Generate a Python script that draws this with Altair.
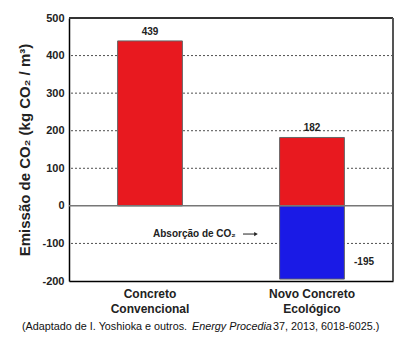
import altair as alt
import pandas as pd

categories = ["Concreto|Convencional", "Novo Concreto|Ecológico"]
emissao = [439, 182]
absorcao = [0, -195]
y_ticks = [-200, -100, 0, 100, 200, 300, 400, 500]
grid_vals = [-100, 100, 200, 300, 400]

FONT = "Liberation Sans"

rows = []
for c, e, a in zip(categories, emissao, absorcao):
    rows.append({"cat": c, "y0": 0, "y1": e, "tipo": "Emissão"})
    if a != 0:
        rows.append({"cat": c, "y0": 0, "y1": a, "tipo": "Absorção"})
bars_df = pd.DataFrame(rows)

lab_df = pd.DataFrame({"cat": categories, "v": emissao, "t": [str(v) for v in emissao]})
neg_df = pd.DataFrame({"cat": [categories[1]], "v": [absorcao[1]], "t": [str(absorcao[1])]})
grid_df = pd.DataFrame({"g": grid_vals})
zero_df = pd.DataFrame({"z": [0]})
top_df = pd.DataFrame({"z": [500]})

xscale = alt.Scale(domain=categories, paddingInner=0.6, paddingOuter=0.3)
yscale = alt.Scale(domain=[-200, 500], nice=False, zero=False)

yaxis = alt.Axis(
    values=y_ticks, labelExpr="'' + datum.value", labelOverlap=False, tickCount=8,
    title="Emissão de CO₂ (kg CO₂ / m³)",
    titleFont=FONT, titleFontSize=15, titleFontWeight="bold", titleColor="#222",
    titlePadding=9, labelFont=FONT, labelFontSize=11, labelFontWeight="bold",
    labelColor="#222", labelPadding=5, ticks=False, grid=False,
    domainColor="black", domainWidth=1.5)

xaxis = alt.Axis(
    title=None, labelExpr="split(datum.value, '|')", labelAngle=0,
    labelFont=FONT, labelFontSize=12, labelFontWeight="bold", labelColor="#222",
    labelLineHeight=15, labelPadding=7, ticks=False, domainColor="black",
    domainWidth=1.5, labelBaseline="top")


def Y(field):
    return alt.Y(field, scale=yscale, axis=yaxis)


def X():
    return alt.X("cat:N", scale=xscale, sort=categories, axis=xaxis)


grid = alt.Chart(grid_df).mark_rule(color="#222", strokeDash=[2, 2], strokeWidth=0.8).encode(
    y=Y("g:Q"))

bars = alt.Chart(bars_df).mark_bar(stroke="#666", strokeWidth=1).encode(
    x=X(),
    y=Y("y0:Q"),
    y2="y1:Q",
    color=alt.Color("tipo:N", scale=alt.Scale(domain=["Emissão", "Absorção"],
                                              range=["#E8191F", "#1A1AE6"]), legend=None),
)

zero = alt.Chart(zero_df).mark_rule(color="#777", strokeWidth=1.5).encode(y=Y("z:Q"))
top_rule = alt.Chart(top_df).mark_rule(color="#333", strokeWidth=2).encode(y=Y("z:Q"))

labels = alt.Chart(lab_df).mark_text(font=FONT, fontSize=10, fontWeight="bold", color="#222",
                                     baseline="bottom", dy=-4).encode(
    x=X(), y=Y("v:Q"), text="t:N")

neg = alt.Chart(neg_df).mark_text(font=FONT, fontSize=10, fontWeight="bold", color="#222",
                                  align="left", baseline="middle", dx=42, dy=-17).encode(
    x=X(), y=Y("v:Q"), text="t:N")

ann_df = pd.DataFrame({"t": ["Absorção de CO₂"], "v": [-75]})
ann = alt.Chart(ann_df).mark_text(font=FONT, fontSize=10, fontWeight="bold", color="#222",
                                  align="left", baseline="middle").encode(
    x=alt.value(84), y=Y("v:Q"), text="t:N")
arrow_line = alt.Chart(ann_df).mark_rule(color="#222", strokeWidth=1).encode(
    x=alt.value(174), x2=alt.value(186), y=Y("v:Q"))
arrow_head = alt.Chart(ann_df).mark_point(shape="triangle-right", filled=True, size=18,
                                          color="#222", opacity=1).encode(
    x=alt.value(187), y=Y("v:Q"))
right_rule = alt.Chart(ann_df).mark_rule(color="#555", strokeWidth=2).encode(
    x=alt.value(324), y=alt.value(0), y2=alt.value(263))

cap_df = pd.DataFrame({
    "t": ["(Adaptado de I. Yoshioka e outros.", "Energy Procedia", "37, 2013, 6018-6025.)"],
})
CAP = 10.8
cap1 = alt.Chart(cap_df.iloc[[0]]).mark_text(font=FONT, fontSize=CAP, color="#111", align="left",
                                             baseline="middle").encode(
    x=alt.value(-47), y=alt.value(309), text="t:N")
cap2 = alt.Chart(cap_df.iloc[[1]]).mark_text(font=FONT, fontSize=CAP, fontStyle="italic", color="#111",
                                             align="left", baseline="middle").encode(
    x=alt.value(123), y=alt.value(309), text="t:N")
cap3 = alt.Chart(cap_df.iloc[[2]]).mark_text(font=FONT, fontSize=CAP, color="#111", align="left",
                                             baseline="middle").encode(
    x=alt.value(204), y=alt.value(309), text="t:N")

chart = alt.layer(grid, bars, zero, top_rule, labels, neg, ann, arrow_line, arrow_head,
                  right_rule, cap1, cap2, cap3).properties(
    width=324, height=263,
    autosize=alt.AutoSizeParams(type="none"),
    padding={"left": 69, "top": 18, "right": 17, "bottom": 65},
).configure_view(stroke=None).configure(background="white")

chart.save("out.html", embed_options={"renderer": "svg", "actions": False})
